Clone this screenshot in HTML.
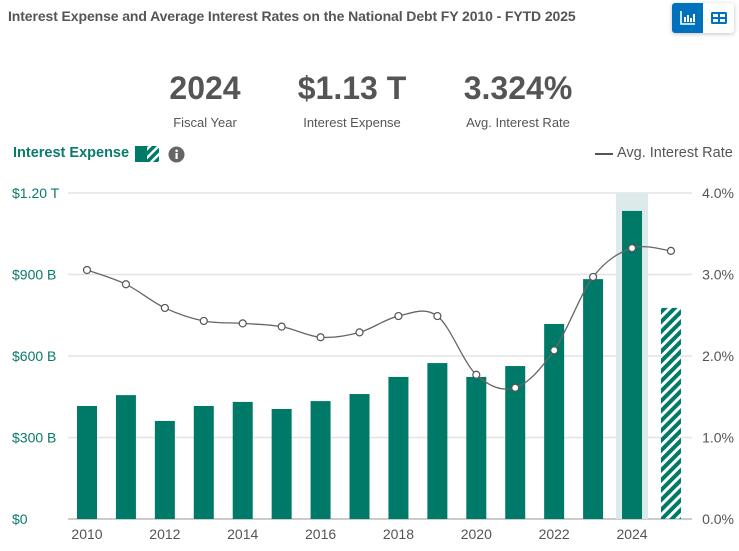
<!DOCTYPE html>
<html><head><meta charset="utf-8"><style>
body{margin:0;width:739px;height:551px;background:#fff;font-family:"Liberation Sans",sans-serif;position:relative;overflow:hidden}
.t{position:absolute;white-space:nowrap}
</style></head><body>
<div class="t" style="left:8px;top:8px;font-size:14px;font-weight:bold;color:#555;letter-spacing:-0.1px">Interest Expense and Average Interest Rates on the National Debt FY 2010 - FYTD 2025</div>
<div style="position:absolute;left:672px;top:3px;width:62px;height:30px;border-radius:3px;box-shadow:0 1px 4px rgba(0,0,0,.25);background:#fff">
 <div style="position:absolute;left:0;top:0;width:31px;height:30px;background:#0071bc;border-radius:3px 0 0 3px">
  <svg width="31" height="30"><path d="M9 8v13h14" stroke="#fff" stroke-width="1.6" fill="none"/><rect x="12" y="14" width="2" height="5" fill="#fff"/><rect x="15" y="12" width="2" height="7" fill="#fff"/><rect x="18" y="15" width="2" height="4" fill="#fff"/><rect x="21" y="11" width="2" height="8" fill="#fff"/></svg></div>
 <div style="position:absolute;left:31px;top:0;width:31px;height:30px">
  <svg width="31" height="30"><rect x="8" y="9" width="16" height="12" rx="1.5" fill="#0071bc"/><rect x="10" y="11" width="5" height="3" fill="#fff"/><rect x="17" y="11" width="5" height="3" fill="#fff"/><rect x="10" y="16" width="5" height="3" fill="#fff"/><rect x="17" y="16" width="5" height="3" fill="#fff"/></svg></div>
</div>
<div class="t" style="left:150px;top:70px;width:110px;text-align:center;font-size:32px;font-weight:bold;color:#555">2024</div>
<div class="t" style="left:150px;top:115px;width:110px;text-align:center;font-size:13px;color:#555">Fiscal Year</div>
<div class="t" style="left:282px;top:70px;width:140px;text-align:center;font-size:32px;font-weight:bold;color:#555">$1.13 T</div>
<div class="t" style="left:282px;top:115px;width:140px;text-align:center;font-size:13px;color:#555">Interest Expense</div>
<div class="t" style="left:448px;top:70px;width:140px;text-align:center;font-size:32px;font-weight:bold;color:#555">3.324%</div>
<div class="t" style="left:448px;top:115px;width:140px;text-align:center;font-size:13px;color:#555">Avg. Interest Rate</div>
<div class="t" style="left:13px;top:145px;font-size:14.5px;font-weight:bold;color:#0a7a6a">Interest Expense</div>
<svg class="t" style="left:135px;top:146px" width="24" height="16"><defs><pattern id="hs" width="6" height="6" patternUnits="userSpaceOnUse" patternTransform="rotate(45)"><rect width="3.5" height="6" fill="#007a68"/></pattern></defs><rect x="0" y="0" width="12" height="16" fill="#007a68"/><rect x="12" y="0" width="12" height="16" fill="url(#hs)"/></svg>
<svg class="t" style="left:168px;top:146px" width="17" height="17"><circle cx="8.5" cy="8.5" r="8" fill="#666"/><rect x="7.5" y="7" width="2.2" height="6" fill="#fff"/><circle cx="8.6" cy="4.8" r="1.3" fill="#fff"/></svg>
<svg class="t" style="left:595px;top:152px" width="18" height="4"><line x1="0" y1="2" x2="18" y2="2" stroke="#555" stroke-width="2"/></svg>
<div class="t" style="left:617px;top:145px;font-size:14.5px;color:#555">Avg. Interest Rate</div>
<svg id="chart" class="t" style="left:0;top:0" width="739" height="551"></svg>
<script>
const years=[2010,2011,2012,2013,2014,2015,2016,2017,2018,2019,2020,2021,2022,2023,2024,2025];
const expense=[416,456,361,416,431,405,434,460,523,574,523,563,718,883,1134,777];
const rates=[3.055,2.88,2.59,2.43,2.40,2.36,2.23,2.29,2.49,2.49,1.77,1.61,2.07,2.97,3.324,3.29];
const leftTicks=["$0","$300 B","$600 B","$900 B","$1.20 T"];
const leftVals=[0,300,600,900,1200];
const rightTicks=["0.0%","1.0%","2.0%","3.0%","4.0%"];
const rightVals=[0,1,2,3,4];
const xTicks=[2010,2012,2014,2016,2018,2020,2022,2024];
const highlightYear=2024, partialYear=2025;
const NS="http://www.w3.org/2000/svg";
const svg=document.getElementById('chart');
const y0=519,y1=193;
const X=yr=>87+(yr-2010)*38.93;
const YL=v=>y0-(v/1200)*(y0-y1);
const YR=v=>y0-(v/4)*(y0-y1);
function mk(t,a){const e=document.createElementNS(NS,t);for(const k in a)e.setAttribute(k,a[k]);svg.appendChild(e);return e;}
svg.innerHTML='<defs><pattern id="hatch" width="7" height="7" patternUnits="userSpaceOnUse" patternTransform="rotate(45)"><rect width="4" height="7" fill="#007a68"/></pattern></defs>';
leftVals.forEach((v,i)=>{
 const g=mk('line',{x1:68,x2:692,y1:YL(v),y2:YL(v),stroke:i==0?'#bbb':'#e3e3e3','stroke-width':1.5});
 
 const t=mk('text',{x:12,y:YL(v)+5,fill:'#0a7a6a','font-size':14,'font-family':'Liberation Sans'});t.textContent=leftTicks[i];
 
});
rightVals.forEach((v,i)=>{
 const t=mk('text',{x:734,y:YR(v)+5,fill:'#555','font-size':14,'text-anchor':'end','font-family':'Liberation Sans'});t.textContent=rightTicks[i];
 
});
const hb=mk('rect',{x:X(highlightYear)-16,y:y1,width:32,height:y0-y1,fill:'#dcebea'});

years.forEach((yr,i)=>{
 const b=mk('rect',{x:X(yr)-10,y:YL(expense[i]),width:20,height:y0-YL(expense[i]),fill:yr==partialYear?'url(#hatch)':'#007a68'});
 
});
xTicks.forEach(yr=>{
 const t=mk('text',{x:X(yr),y:539,fill:'#555','font-size':14,'text-anchor':'middle','font-family':'Liberation Sans'});t.textContent=yr;
 
});
const pts=years.map((yr,i)=>[X(yr),YR(rates[i])]);
let d='M'+pts[0][0]+','+pts[0][1];
for(let i=0;i<pts.length-1;i++){
 const p0=pts[Math.max(i-1,0)],p1=pts[i],p2=pts[i+1],p3=pts[Math.min(i+2,pts.length-1)];
 const c1=[p1[0]+(p2[0]-p0[0])/6,p1[1]+(p2[1]-p0[1])/6],c2=[p2[0]-(p3[0]-p1[0])/6,p2[1]-(p3[1]-p1[1])/6];
 d+=' C'+c1+' '+c2+' '+p2;
}
const ln=mk('path',{d:d,fill:'none',stroke:'#666','stroke-width':1.3});

pts.forEach((p,i)=>{
 const c=mk('circle',{cx:p[0],cy:p[1],r:3.5,fill:'#fff',stroke:'#555','stroke-width':1.2});
 
});
</script>
</body></html>
